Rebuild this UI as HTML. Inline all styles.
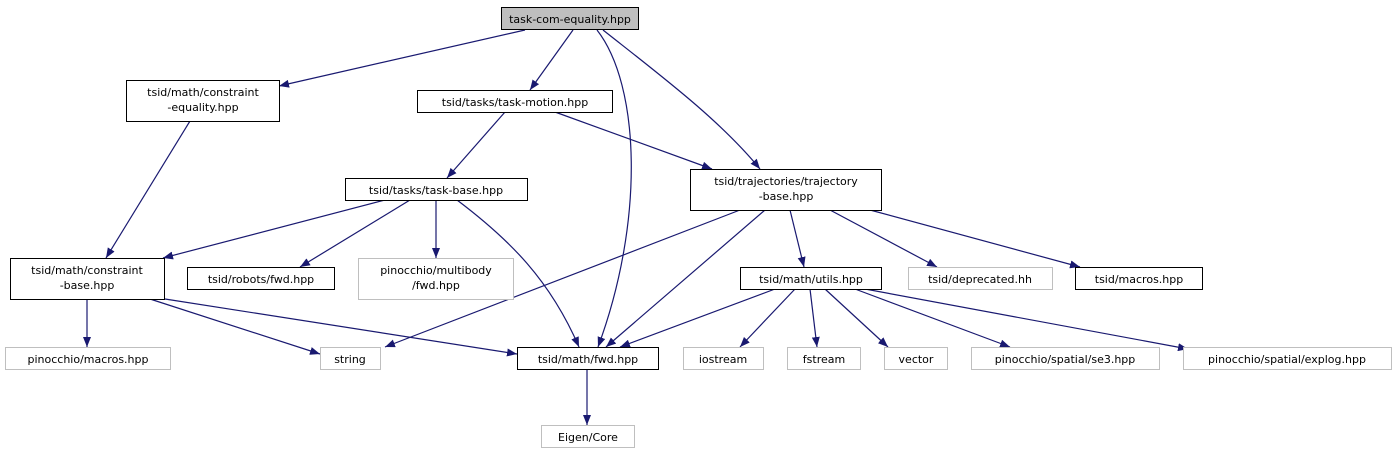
<!DOCTYPE html>
<html><head><meta charset="utf-8"><style>
html,body{margin:0;padding:0;background:#fff;}
svg{display:block;}
text{font-family:"DejaVu Sans","Liberation Sans",sans-serif;font-size:11px;fill:#000;}
</style></head><body>
<svg width="1397" height="455" viewBox="0 0 1397 455" xmlns="http://www.w3.org/2000/svg">
<defs>
<marker id="a" viewBox="0 0 10 8" refX="10" refY="4" markerWidth="10" markerHeight="8" markerUnits="userSpaceOnUse" orient="auto">
<path d="M0,0 L10,4 L0,8 z" fill="#191970"/>
</marker>
</defs>
<g fill="none" stroke="#191970" stroke-width="1.2" marker-end="url(#a)">
<path d="M525,30 L279,86"/>
<path d="M573,30 L530,90"/>
<path d="M597,30 C640,85 645,220 598,347"/>
<path d="M603,30 C660,75 720,120 760,169"/>
<path d="M190,121 L106,258"/>
<path d="M505,112 L447,178"/>
<path d="M555,112 L712,169"/>
<path d="M385,200 L163,258"/>
<path d="M410,200 L300,267"/>
<path d="M436,200 L436,258"/>
<path d="M457,200 C510,240 550,280 579,347"/>
<path d="M740,210 L385,347"/>
<path d="M765,210 L606,347"/>
<path d="M790,210 L804,267"/>
<path d="M830,210 L937,267"/>
<path d="M870,210 L1080,267"/>
<path d="M87,299 L87,347"/>
<path d="M150,299 L320,354"/>
<path d="M165,299 L517,354"/>
<path d="M775,289 L620,347"/>
<path d="M795,289 L740,347"/>
<path d="M810,289 L817,347"/>
<path d="M825,289 L888,347"/>
<path d="M855,289 L1010,347"/>
<path d="M865,289 L1188,349"/>
<path d="M587,369 L587,425"/>
</g>
<g stroke-width="1">
<rect x="501.5" y="7.5" width="137" height="22" fill="#bfbfbf" stroke="#000"/>
<rect x="126.5" y="80.5" width="153" height="41" fill="#fff" stroke="#000"/>
<rect x="417.5" y="90.5" width="195" height="22" fill="#fff" stroke="#000"/>
<rect x="345.5" y="178.5" width="182" height="22" fill="#fff" stroke="#000"/>
<rect x="690.5" y="169.5" width="191" height="41" fill="#fff" stroke="#000"/>
<rect x="10.5" y="258.5" width="154" height="41" fill="#fff" stroke="#000"/>
<rect x="187.5" y="267.5" width="147" height="22" fill="#fff" stroke="#000"/>
<rect x="358.5" y="258.5" width="155" height="41" fill="#fff" stroke="#bfbfbf"/>
<rect x="740.5" y="267.5" width="141" height="22" fill="#fff" stroke="#000"/>
<rect x="908.5" y="267.5" width="144" height="22" fill="#fff" stroke="#bfbfbf"/>
<rect x="1075.5" y="267.5" width="127" height="22" fill="#fff" stroke="#000"/>
<rect x="5.5" y="347.5" width="165" height="22" fill="#fff" stroke="#bfbfbf"/>
<rect x="320.5" y="347.5" width="60" height="22" fill="#fff" stroke="#bfbfbf"/>
<rect x="517.5" y="347.5" width="141" height="22" fill="#fff" stroke="#000"/>
<rect x="683.5" y="347.5" width="80" height="22" fill="#fff" stroke="#bfbfbf"/>
<rect x="787.5" y="347.5" width="73" height="22" fill="#fff" stroke="#bfbfbf"/>
<rect x="884.5" y="347.5" width="63" height="22" fill="#fff" stroke="#bfbfbf"/>
<rect x="971.5" y="347.5" width="188" height="22" fill="#fff" stroke="#bfbfbf"/>
<rect x="1183.5" y="347.5" width="208" height="22" fill="#fff" stroke="#bfbfbf"/>
<rect x="541.5" y="425.5" width="93" height="22" fill="#fff" stroke="#bfbfbf"/>
</g>
<g text-anchor="middle">
<text x="570" y="23">task-com-equality.hpp</text>
<text x="203" y="96">tsid/math/constraint</text>
<text x="203" y="111">-equality.hpp</text>
<text x="515" y="106">tsid/tasks/task-motion.hpp</text>
<text x="436" y="194">tsid/tasks/task-base.hpp</text>
<text x="786" y="185">tsid/trajectories/trajectory</text>
<text x="786" y="200">-base.hpp</text>
<text x="87" y="274">tsid/math/constraint</text>
<text x="87" y="289">-base.hpp</text>
<text x="261" y="283">tsid/robots/fwd.hpp</text>
<text x="436" y="274">pinocchio/multibody</text>
<text x="436" y="289">/fwd.hpp</text>
<text x="811" y="283">tsid/math/utils.hpp</text>
<text x="980" y="283">tsid/deprecated.hh</text>
<text x="1139" y="283">tsid/macros.hpp</text>
<text x="88" y="363">pinocchio/macros.hpp</text>
<text x="350" y="363">string</text>
<text x="588" y="363">tsid/math/fwd.hpp</text>
<text x="723" y="363">iostream</text>
<text x="824" y="363">fstream</text>
<text x="916" y="363">vector</text>
<text x="1065" y="363">pinocchio/spatial/se3.hpp</text>
<text x="1287" y="363">pinocchio/spatial/explog.hpp</text>
<text x="588" y="441">Eigen/Core</text>
</g>
</svg>
</body></html>
